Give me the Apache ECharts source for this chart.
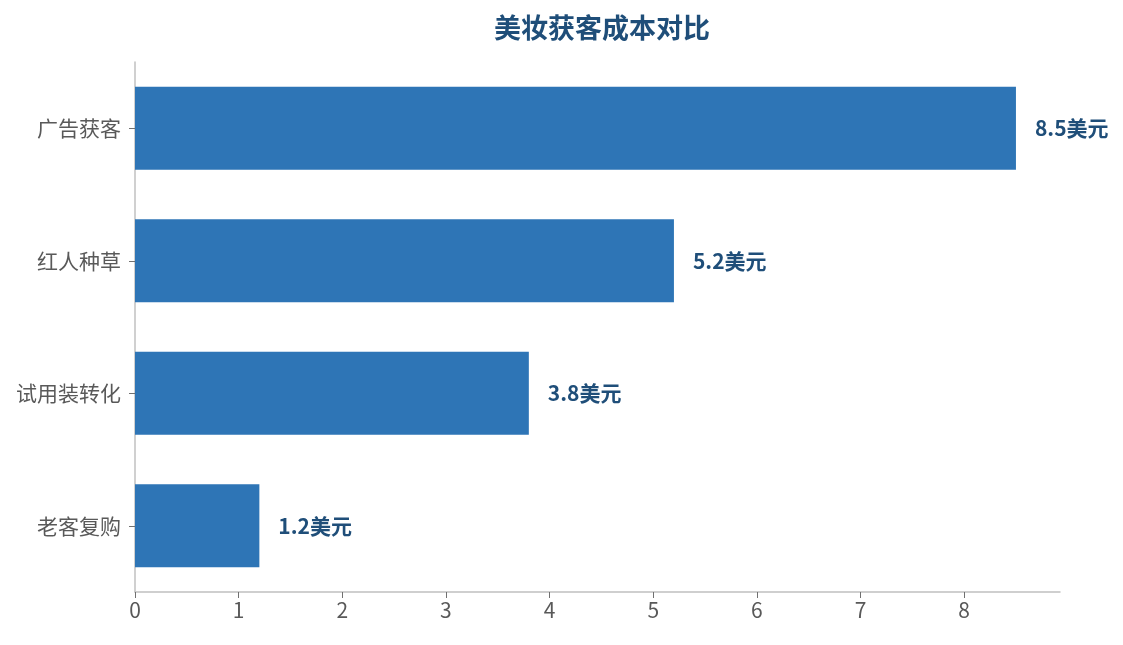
<!DOCTYPE html>
<html lang="zh">
<head>
    <meta charset="UTF-8">
    <script src="https://cdn.jsdelivr.net/npm/echarts@6/dist/echarts.min.js"></script>
    <title>美妆获客成本对比</title>
    <style>
        html, body { margin: 0; padding: 0; background: #fff; }
        #main { width: 1123px; height: 645px; }
    </style>
</head>
<body>
    <div id="main"></div>
    <script>
        // data (bottom to top on the category axis)
        var channels = ['老客复购', '试用装转化', '红人种草', '广告获客'];
        var costs = [1.2, 3.8, 5.2, 8.5];
        var unit = '美元';
        var xTicks = [0, 1, 2, 3, 4, 5, 6, 7, 8];

        var font = '"Microsoft YaHei", "Noto Sans CJK SC", sans-serif';
        var myChart = echarts.init(document.getElementById('main'));
        var option = {
            backgroundColor: '#fff',
            title: {
                text: '美妆获客成本对比',
                left: 597,
                textAlign: 'center',
                top: 9,
                textStyle: { fontFamily: font, fontSize: 27, fontWeight: 'bold', color: '#1F4E79' }
            },
            grid: { left: 135, right: 63, top: 62, bottom: 53 },
            xAxis: {
                type: 'value',
                min: 0,
                max: 8.925,
                interval: 1,
                splitLine: { show: false },
                axisLine: { show: true, lineStyle: { color: '#c0c0c0', width: 1.5 } },
                axisTick: { show: true, length: 6, customValues: xTicks, lineStyle: { color: '#707070' } },
                axisLabel: {
                    fontFamily: font, fontSize: 21, color: '#595959', margin: 8,
                    customValues: xTicks
                }
            },
            yAxis: {
                type: 'category',
                data: channels,
                axisLine: { show: true, lineStyle: { color: '#c0c0c0', width: 1.5 } },
                axisTick: { show: true, alignWithLabel: true, length: 6, lineStyle: { color: '#707070' } },
                axisLabel: { fontFamily: font, fontSize: 21, color: '#595959', margin: 14 }
            },
            series: [{
                type: 'bar',
                data: costs,
                barWidth: '62.5%',
                itemStyle: { color: '#2E75B6' },
                label: {
                    show: true,
                    position: 'right',
                    distance: 19,
                    fontFamily: font,
                    fontSize: 21,
                    fontWeight: 'bold',
                    color: '#1F4E79',
                    formatter: function (p) { return p.value + unit; }
                }
            }]
        };
        myChart.setOption(option);
    </script>
</body>
</html>
